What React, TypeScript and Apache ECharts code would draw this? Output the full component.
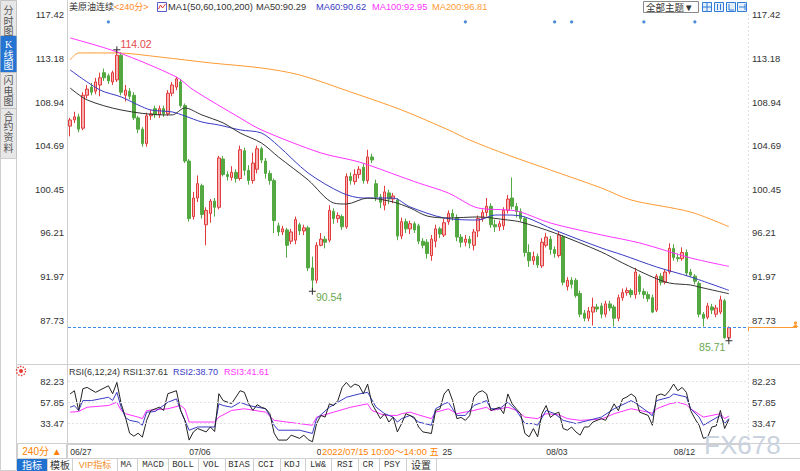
import React, { useEffect, useRef } from 'react';
import * as echarts from 'echarts';

// ---------- data ----------
// candles: [open, close, low, high] (240-minute bars)
const candles: number[][] = [
  [106.6,107.2,105.6,107.4],[107.2,107.5,106.9,108.0],[107.5,106.3,106.0,107.8],[106.4,109.6,106.2,109.9],[109.6,110.2,109.3,110.6],
  [110.4,109.9,109.6,110.8],[110.0,110.9,109.7,111.3],[110.6,111.3,109.5,111.8],[111.8,111.3,111.0,112.2],[111.5,111.0,110.7,111.7],
  [110.9,111.8,110.6,112.0],[111.1,113.5,110.9,114.02],[113.5,109.9,109.6,113.8],[109.6,110.1,109.0,110.6],[110.0,109.5,109.2,110.3],
  [109.6,107.4,107.2,109.9],[107.4,106.3,105.9,107.6],[106.3,104.9,104.6,106.5],[104.9,107.6,104.6,107.9],[107.6,107.8,107.2,108.2],
  [108.3,107.7,107.4,108.6],[107.7,108.3,107.4,108.6],[108.3,107.8,107.5,108.6],[107.8,109.8,107.6,110.1],[109.8,110.6,109.5,110.9],
  [110.4,111.2,110.1,111.4],[110.9,108.6,108.4,111.2],[108.6,103.2,103.0,108.8],[103.2,97.6,97.3,103.4],[97.8,99.6,97.5,100.2],
  [99.6,101.0,99.2,101.8],[100.8,98.0,97.6,101.0],[97.0,98.4,95.0,98.7],[98.1,99.3,97.2,99.5],[99.3,98.7,97.8,99.6],
  [98.7,103.5,98.5,103.7],[103.4,101.9,101.7,103.7],[101.9,101.7,101.3,102.2],[101.6,102.1,101.3,102.7],[102.1,101.5,101.1,102.4],
  [101.5,104.3,101.3,104.7],[104.2,102.3,101.8,104.5],[102.3,101.3,100.9,102.8],[101.3,103.0,101.0,104.0],[102.4,104.4,102.0,104.7],
  [104.4,103.3,103.0,104.6],[103.2,102.0,101.5,103.5],[102.0,101.3,100.9,102.3],[101.3,97.4,96.2,101.5],[96.9,96.3,95.9,97.2],
  [96.3,96.6,96.0,96.9],[96.5,95.0,93.8,96.7],[95.4,96.3,95.1,96.6],[95.5,97.5,95.1,97.8],[97.0,96.4,96.0,97.2],
  [96.4,96.7,96.0,97.0],[96.7,92.8,92.5,96.9],[92.8,91.6,90.54,93.9],[91.6,95.0,91.3,95.3],[95.0,95.6,94.9,96.2],
  [95.6,95.3,94.7,95.9],[95.5,98.4,95.3,98.9],[98.3,97.6,97.1,98.6],[97.6,97.9,97.2,98.2],[97.8,96.8,96.5,98.0],
  [96.8,101.7,96.6,102.0],[101.7,101.3,100.9,102.1],[101.2,101.9,100.9,102.4],[101.9,102.4,101.5,102.7],[102.6,101.3,101.0,103.0],
  [101.3,103.6,101.0,104.3],[103.6,103.3,103.0,103.9],[101.0,99.7,99.3,101.4],[99.7,99.2,98.6,100.0],[98.9,100.2,98.4,100.8],
  [100.1,99.5,99.0,100.4],[99.5,99.8,99.1,100.1],[99.4,95.9,95.5,99.6],[95.9,97.3,95.6,97.7],[97.3,96.6,96.2,97.6],
  [96.6,97.1,96.1,97.4],[97.1,96.5,96.2,97.3],[96.9,95.4,95.1,97.1],[95.4,95.0,94.7,95.7],[95.3,94.2,93.7,95.6],
  [94.0,95.6,93.5,96.0],[95.4,96.6,94.8,97.0],[96.6,96.1,95.7,96.8],[96.0,97.2,95.8,97.6],[97.3,98.1,97.0,98.4],
  [98.1,97.8,97.4,98.5],[97.7,95.8,95.4,98.0],[95.8,95.3,94.8,96.1],[95.3,95.6,94.9,96.0],[95.6,95.2,94.7,95.9],
  [95.0,96.3,94.5,96.6],[96.4,97.6,95.8,97.9],[97.6,98.2,97.3,98.5],[98.2,98.8,97.8,99.6],[98.8,97.0,96.7,99.1],
  [97.0,96.8,96.3,97.5],[96.8,97.1,96.4,97.4],[96.9,98.4,96.5,98.7],[98.4,99.5,98.1,99.9],[99.6,98.8,98.5,101.6],
  [98.8,98.3,97.7,99.1],[98.3,97.6,97.3,98.6],[97.6,94.3,93.9,97.8],[94.3,93.5,92.9,95.1],[93.5,93.9,93.1,94.4],
  [93.9,93.1,92.8,94.2],[93.0,95.3,92.8,95.7],[95.0,95.8,94.8,96.2],[95.6,94.6,94.1,95.9],[94.6,94.2,93.8,94.9],
  [94.0,96.0,93.8,96.3],[95.8,91.4,91.1,96.0],[91.0,91.6,90.6,91.9],[91.6,91.2,90.8,91.9],[91.6,90.1,89.9,91.8],
  [90.3,88.3,88.0,90.6],[88.4,87.9,87.6,88.7],[87.9,88.6,87.6,89.0],[88.5,89.0,87.2,89.9],[89.0,88.8,88.5,89.3],
  [89.1,88.3,87.9,89.4],[88.3,89.3,88.0,89.6],[89.3,88.9,88.6,89.6],[89.0,87.9,87.1,89.2],[87.9,89.9,87.6,90.2],
  [89.9,90.4,89.6,90.8],[90.4,90.6,90.1,90.9],[90.6,90.2,89.9,90.8],[90.2,92.4,89.8,92.8],[92.0,90.5,90.2,92.2],
  [90.5,90.2,89.8,90.8],[90.2,89.8,89.5,90.5],[89.9,88.5,88.4,90.2],[88.7,92.0,88.5,92.2],[92.0,91.4,91.1,92.3],
  [91.4,92.4,91.2,92.7],[92.4,94.7,92.2,95.2],[94.7,93.8,93.5,95.1],[93.8,93.7,93.4,94.2],[93.7,94.3,93.5,94.8],
  [94.3,92.3,92.0,94.6],[92.4,92.1,91.9,92.7],[92.0,91.5,91.2,92.2],[91.3,88.3,88.0,91.5],[88.3,87.9,87.1,88.5],
  [88.0,89.1,87.8,89.4],[89.0,88.7,88.3,89.3],[88.3,88.9,88.0,89.2],[88.5,89.7,88.3,90.1],[89.6,86.0,85.9,89.8],
  [86.0,86.98,85.71,87.1],
];
const slotCount = 160; // bar slots on the time axis (last few empty)

// moving averages, read at points: [bar index, value]
const ma50: number[][] = [[0,110.31],[4,109.15],[12,108.17],[22,107.69],[24,107.69],[27,108.37],[31,107.69],[36,106.91],[40,105.93],[45,104.96],[49,103.6],[56,101.36],[62,99.12],[65,99.02],[70,99.6],[76,99.22],[80,98.63],[84,97.85],[89,97.66],[96,97.76],[103,97.46],[106,97.27],[114,96.2],[125,94.35],[130,93.28],[137,91.92],[141,91.33],[146,91.14],[148,90.94],[155,90.29]];
const ma60: number[][] = [[0,112.07],[7,110.12],[12,109.44],[16,108.66],[19,108.17],[24,107.98],[27,107.59],[31,107.0],[35,106.71],[40,106.23],[45,105.93],[49,104.67],[56,102.04],[64,100.09],[69,99.6],[76,99.6],[80,98.73],[88,97.66],[96,97.46],[100,97.95],[103,97.95],[107,97.76],[114,96.49],[125,94.74],[130,94.06],[138,92.89],[146,91.92],[155,90.62]];
const ma100: number[][] = [[0,115.18],[11,113.82],[25,111.38],[29,110.12],[40,107.39],[45,106.23],[59,103.99],[68,103.11],[78,101.65],[82,101.06],[89,100.09],[96,98.63],[103,98.44],[106,98.24],[113,97.17],[125,96.01],[134,95.23],[146,93.77],[155,92.95]];
const ma200: number[][] = [[0,113.04],[2,113.72],[11,113.72],[21,113.33],[33,112.75],[45,112.26],[54,111.58],[66,109.92],[78,108.17],[89,106.23],[94,105.25],[103,103.79],[113,102.33],[125,100.58],[132,99.41],[146,98.24],[155,96.81]];

// RSI(6,12,24), read at points: [bar index, value]
const rsi1: number[][] = [[0,67.6],[1,71.4],[2,48.2],[3,73.8],[4,75.3],[6,69.5],[9,77.2],[10,67.9],[11,81.1],[12,56.3],[13,40.4],[14,21.5],[15,18.0],[16,21.5],[17,16.9],[18,36.6],[19,48.2],[21,52.0],[22,48.2],[23,67.9],[25,71.4],[26,48.2],[27,36.6],[28,13.4],[29,23.0],[30,27.0],[32,23.0],[33,28.8],[34,23.5],[35,67.9],[36,59.8],[38,56.3],[40,71.4],[41,69.5],[42,56.3],[43,48.2],[44,55.0],[45,52.0],[46,50.3],[47,44.4],[48,21.5],[49,13.4],[51,13.4],[52,19.2],[54,15.4],[55,19.2],[56,14.0],[57,11.4],[58,32.8],[59,42.4],[60,40.4],[61,56.0],[62,54.0],[63,59.8],[64,75.3],[65,81.1],[66,75.3],[67,79.2],[68,77.2],[69,67.9],[70,79.2],[71,56.3],[73,38.6],[74,44.4],[75,34.6],[76,40.4],[77,23.0],[78,32.8],[79,44.4],[81,40.0],[82,28.8],[83,23.0],[85,21.2],[86,48.2],[87,50.0],[88,67.6],[89,73.4],[90,59.8],[91,38.6],[92,40.0],[93,36.6],[94,42.0],[95,63.7],[96,69.5],[97,71.4],[98,67.6],[99,48.2],[100,50.0],[101,52.0],[102,44.4],[103,67.6],[104,56.0],[105,50.0],[106,44.4],[107,21.2],[108,17.2],[109,27.0],[110,17.2],[111,44.4],[112,54.0],[113,40.0],[114,44.0],[115,46.2],[116,27.0],[117,25.0],[118,28.8],[119,23.0],[120,19.2],[121,28.8],[122,28.8],[123,34.6],[124,36.6],[125,38.6],[126,36.6],[128,56.0],[129,48.0],[130,61.8],[131,64.0],[132,67.6],[133,64.0],[134,46.2],[136,42.4],[137,30.8],[138,65.6],[139,67.6],[140,65.6],[141,71.4],[142,79.2],[143,71.4],[144,75.3],[145,69.5],[146,48.2],[147,38.6],[148,30.8],[149,15.4],[150,17.0],[151,28.8],[152,30.0],[153,48.2],[154,27.0],[155,37.61]];
const rsi2: number[][] = [[0,52.0],[1,53.9],[2,48.2],[3,59.8],[5,59.8],[9,63.7],[10,60.0],[11,69.5],[12,52.0],[13,40.0],[14,36.6],[16,34.6],[17,30.8],[18,46.2],[20,47.0],[23,57.8],[25,61.8],[26,48.2],[28,25.0],[30,28.8],[34,28.8],[35,56.0],[36,54.0],[38,52.0],[40,57.8],[42,54.0],[46,50.2],[47,42.0],[48,30.8],[49,25.0],[54,25.0],[57,21.2],[58,38.6],[61,52.0],[65,63.7],[68,67.6],[70,69.5],[72,52.0],[74,44.4],[76,40.4],[77,34.6],[78,38.6],[80,42.4],[82,34.6],[85,30.8],[86,50.2],[88,56.0],[89,57.8],[91,42.4],[93,42.4],[95,54.0],[98,59.8],[99,50.2],[101,50.2],[103,57.8],[105,48.2],[107,32.8],[109,32.8],[110,30.8],[112,48.2],[114,44.4],[116,36.6],[119,32.8],[122,36.6],[125,40.4],[128,50.2],[132,59.8],[133,57.0],[136,46.2],[137,42.0],[138,59.8],[141,63.7],[142,67.6],[145,64.0],[146,50.2],[148,40.4],[149,30.8],[151,36.6],[153,42.4],[154,32.8],[155,38.70]];
const rsi3: number[][] = [[0,46.2],[2,47.0],[4,52.0],[9,54.0],[11,57.8],[12,48.2],[13,44.4],[16,40.4],[17,38.6],[18,48.2],[23,50.2],[26,54.0],[27,50.0],[28,34.6],[31,34.6],[34,34.6],[35,40.4],[38,48.2],[41,50.2],[46,46.2],[48,36.6],[51,34.6],[57,30.8],[58,40.4],[62,46.2],[66,52.0],[70,56.0],[71,48.2],[74,42.4],[77,42.4],[78,44.4],[80,46.2],[82,43.0],[85,38.6],[86,46.2],[89,50.2],[91,44.4],[95,48.2],[98,52.0],[99,48.0],[103,52.0],[105,48.2],[107,40.4],[110,38.6],[112,44.4],[115,43.0],[117,38.6],[120,36.6],[125,38.0],[128,44.4],[132,50.2],[136,46.2],[137,45.0],[138,50.2],[141,56.0],[143,57.8],[145,55.0],[146,50.2],[149,40.4],[151,42.4],[153,44.4],[154,38.6],[155,41.61]];

const mainTicks = ['87.73','91.97','96.21','100.45','104.69','108.94','113.18','117.42'];
const rsiTicks = ['33.47','57.85','82.23'];
const dateLabels = ['06/27','07/06','07/15','07/25','08/03','08/12'];
const dateLabelIdx = [0, 28, 58, 84, 112, 142];
// the parts of the date labels left visible around the crosshair time box
const dateLabelVisible = ['06/27','07/06','0','','08/03','08/12'];
const crosshairText = '2022/07/15 10:00～14:00 五';
const eventIdx = [9, 93, 114, 118, 135, 147];
const eventLevel = 116.74;
const lastPrice = 86.98;
const extremes = [
  { idx: 11, value: 114.02, kind: 'high' },
  { idx: 57, value: 90.54, kind: 'low' },
  { idx: 155, value: 85.71, kind: 'lowEnd' },
];

// ---------- helpers ----------
const FONT = '"Liberation Sans", "Noto Sans CJK SC", sans-serif';
const MONO = '"Liberation Mono", "Noto Sans CJK SC", monospace';
const mainStep = (117.42 - 87.73) / 7;
const mainMin = 87.73 - mainStep;
const mainMax = 117.9;
const rsiStep = 24.38;
const rsiMin = 33.47 - rsiStep;
const rsiMax = 98.1;

const pick = (ticks: string[]) => (v: number) => {
  const m = ticks.find((t) => Math.abs(parseFloat(t) - v) < 0.05);
  return m ?? '';
};

const T = (text: string, x: number, y: number, fill: string, size = 9.5, family = FONT, align = 'left', z = 50) => ({
  type: 'text', x, y, z, silent: true,
  style: { text, fill, font: `${size}px ${family}`, align, verticalAlign: 'middle', textAlign: align, textVerticalAlign: 'middle' },
});
const L = (x1: number, y1: number, x2: number, y2: number, stroke = '#d2d2d2', dash?: number[], z = 40) => ({
  type: 'line', z, silent: true, shape: { x1, y1, x2, y2 }, style: { stroke, lineWidth: 1, lineDash: dash },
});
const R = (x: number, y: number, w: number, h: number, fill: string, stroke?: string, z = 45) => ({
  type: 'rect', z, silent: true, shape: { x, y, width: w, height: h }, style: { fill, stroke, lineWidth: 1 },
});

function buildGraphic() {
  const g: any[] = [];
  // sidebar
  g.push(R(0.5, 0.5, 16, 158, '#e7e7e7', '#c4c4c4', 30));
  g.push(R(0.5, 36, 16, 36, '#2574d2', undefined, 31));
  g.push(L(0, 35.5, 17, 35.5, '#c4c4c4', undefined, 32));
  g.push(L(0, 72.5, 17, 72.5, '#c4c4c4', undefined, 32));
  g.push(L(0, 108.5, 17, 108.5, '#c4c4c4', undefined, 32));
  g.push(R(0.5, 158.5, 16, 312, '#ffffff', '#cfcfcf', 30));
  const side: [string, number, string][] = [
    ['分', 10, '#555'], ['时', 21, '#555'], ['图', 31, '#555'],
    ['K', 44, '#fff'], ['线', 55, '#fff'], ['图', 65, '#fff'],
    ['闪', 80, '#555'], ['电', 91, '#555'], ['图', 101, '#555'],
    ['合', 116, '#555'], ['约', 126, '#555'], ['资', 137, '#555'], ['料', 148, '#555'],
  ];
  side.forEach(([c, y, f]) => g.push(T(c, 8.5, y, f, 10, c === 'K' ? '"Liberation Serif", serif' : FONT, 'center', 35)));

  // frame lines
  g.push(L(67.5, 0, 67.5, 458, '#cfcfcf'));
  g.push(L(748.5, 14, 748.5, 443, '#dedede', [2, 2]));
  g.push(L(17, 364.5, 800, 364.5, '#cfcfcf'));
  g.push(L(17, 443.5, 800, 443.5, '#cfcfcf'));

  // top legend
  g.push(T('美原油连续', 69, 7, '#333', 9));
  g.push(T('<240分>', 114, 7, '#ff8a1f', 9));
  g.push(R(157.5, 2.5, 9, 9, '#ffffff', '#5b5bd0', 46));
  g.push({ type: 'polyline', z: 47, silent: true, shape: { points: [[158.5, 9], [160.5, 5], [162.5, 8], [165.5, 4]] }, style: { stroke: '#e53935', lineWidth: 1, fill: 'none' } });
  g.push(T('MA1(50,60,100,200)', 168, 7, '#333', 9.3));
  g.push(T('MA50:90.29', 256, 7, '#333', 9.3));
  g.push(T('MA60:90.62', 316, 7, '#3a3ac4', 9.3));
  g.push(T('MA100:92.95', 372, 7, '#ff33ff', 9.3));
  g.push(T('MA200:96.81', 432, 7, '#ff9a33', 9.3));

  // top-right controls
  g.push(R(643.5, 1.5, 55, 11, '#ffffff', '#8a8a8a'));
  g.push(T('全部主题▼', 646, 7, '#333', 9.5));
  [702, 714, 726, 737].forEach((x, k) => {
    g.push(R(x + 0.5, 2.5, 9, 9, '#e6f0fb', '#2f7bd5', 46));
    if (k === 0) { g.push(L(x + 5, 3, x + 5, 11, '#2f7bd5', undefined, 47)); g.push(L(x + 1, 7, x + 9, 7, '#2f7bd5', undefined, 47)); }
    if (k === 1) { g.push(L(x + 3.5, 4, x + 3.5, 10, '#2f7bd5', undefined, 47)); g.push(L(x + 6.5, 4, x + 6.5, 10, '#2f7bd5', undefined, 47)); }
    if (k === 2) { g.push(L(x + 3, 4, x + 3, 10, '#2f7bd5', undefined, 47)); g.push(L(x + 3, 10, x + 8, 10, '#2f7bd5', undefined, 47)); }
    if (k === 3) { g.push(L(x + 2, 7, x + 8, 7, '#2f7bd5', undefined, 47)); g.push(L(x + 8, 4, x + 8, 10, '#2f7bd5', undefined, 47)); }
  });

  // RSI legend + icon
  g.push({ type: 'circle', z: 50, silent: true, shape: { cx: 21, cy: 371, r: 4.5 }, style: { fill: 'none', stroke: '#e53935', lineWidth: 1.4, lineDash: [1.4, 1.4] } });
  g.push({ type: 'circle', z: 50, silent: true, shape: { cx: 21, cy: 371, r: 2 }, style: { fill: '#e53935' } });
  g.push(T('RSI(6,12,24)', 69, 372, '#333', 9));
  g.push(T('RSI1:37.61', 123, 372, '#333', 9));
  g.push(T('RSI2:38.70', 173, 372, '#3a3ac4', 9));
  g.push(T('RSI3:41.61', 224, 372, '#ff33ff', 9));

  // current price tag on the right
  g.push({ type: 'polyline', z: 50, silent: true, shape: { points: [[748.5, 331], [748.5, 327.5], [797, 327.5]] }, style: { stroke: '#ff9a33', lineWidth: 1, fill: 'none' } });
  g.push({ type: 'circle', z: 50, silent: true, shape: { cx: 795.5, cy: 323, r: 1.6 }, style: { fill: '#ff9a33' } });
  g.push({ type: 'polygon', z: 50, silent: true, shape: { points: [[792.5, 327], [798.5, 327], [795.5, 324]] }, style: { fill: '#ff9a33' } });

  // period box
  g.push(R(17.5, 443.5, 49, 15, '#ffffff', '#cfcfcf'));
  g.push(T('240分 ▲', 42, 451.5, '#ff7f00', 10, FONT, 'center'));

  // crosshair time label, and the tail of the 07/25 label that shows after it
  g.push(R(321, 445, 121, 13, '#ffffff', undefined, 100));
  g.push(T(crosshairText, 322, 452, '#ff7f00', 9.3, FONT, 'left', 101));
  g.push(T('25', 442.5, 452, '#333', 8.6, FONT, 'left', 101));

  // watermark
  g.push(T('FX678', 704, 445, '#c9d2de', 26, FONT, 'left', 60));

  // bottom tab bar
  g.push(R(17.5, 458.5, 783, 13, '#ffffff', '#cfcfcf'));
  g.push(R(17, 459, 30, 12, '#1f72d0', undefined, 46));
  [47, 72, 117, 137, 168, 198, 225, 253, 280, 305, 331, 358, 379, 406, 436].forEach((x) => g.push(L(x + 0.5, 459, x + 0.5, 471, '#cfcfcf', undefined, 47)));
  g.push(T('指标', 32, 465, '#ffffff', 10, FONT, 'center'));
  g.push(T('模板', 60, 465, '#333', 10, FONT, 'center'));
  g.push(T('VIP指标', 95, 465, '#f08a24', 9, FONT, 'center'));
  const tabs: [string, number][] = [['MA', 126], ['MACD', 153], ['BOLL', 183], ['VOL', 211], ['BIAS', 239], ['CCI', 266], ['KDJ', 292], ['LW&', 318], ['RSI', 345], ['CR', 368], ['PSY', 392]];
  tabs.forEach(([t, x]) => g.push(T(t, x, 465, '#333', 9, MONO, 'center')));
  g.push(T('设置', 421, 465, '#333', 10, FONT, 'center'));
  return g;
}

export default function App() {
  const ref = useRef<HTMLDivElement>(null);
  useEffect(() => {
    const chart = echarts.init(ref.current!, null, { renderer: 'svg' });
    const cats = Array.from({ length: slotCount }, (_, i) => String(i));
    const plus = 'path://M0,3H7V4H0ZM3,0H4V7H3Z';
    const extremeMarks = extremes.map((e) => ({
      coord: [e.idx, e.value],
      value: e.value.toFixed(2),
      label: e.kind === 'high'
        ? { position: 'right', distance: 0, offset: [0, -6], color: '#e5484d' }
        : e.kind === 'low'
          ? { position: 'right', distance: 0, offset: [0, 6], color: '#6aa84f' }
          : { position: 'left', distance: 0, offset: [0, 6], color: '#6aa84f' },
    }));
    const lineSeries = (name: string, data: number[][], color: string, xi: number, yi: number, smooth: any) => ({
      name, type: 'line', data, xAxisIndex: xi, yAxisIndex: yi, showSymbol: false, symbol: 'none', smooth,
      lineStyle: { color, width: 1 }, itemStyle: { color }, silent: true, z: 3,
    });
    const yCommon = {
      type: 'value', axisLine: { show: false }, axisTick: { show: false }, splitLine: { show: false },
      axisLabel: { color: '#333', fontSize: 9.5, fontFamily: FONT, margin: 4 },
    };
    const option: any = {
      animation: false,
      backgroundColor: '#ffffff',
      grid: [
        { left: 68, width: 680, top: 10, height: 353.6 },
        { left: 68, width: 680, top: 368, height: 75.75 },
      ],
      xAxis: [
        { type: 'category', gridIndex: 0, data: cats, boundaryGap: true, axisLine: { show: false }, axisTick: { show: false }, axisLabel: { show: false }, splitLine: { show: false } },
        {
          type: 'category', gridIndex: 1, data: cats, boundaryGap: true,
          axisLine: { show: true, lineStyle: { color: '#cfcfcf' } }, axisTick: { show: false }, splitLine: { show: false },
          axisLabel: {
            show: true, align: 'left', color: '#333', fontSize: 8.6, fontFamily: FONT, margin: 4,
            interval: (index: number) => dateLabelIdx.includes(index) && dateLabelVisible[dateLabelIdx.indexOf(index)] !== '',
            formatter: (_v: string, index: number) => { const k = dateLabelIdx.indexOf(index); return k >= 0 ? dateLabelVisible[k] : ''; },
          },
        },
      ],
      yAxis: [
        { ...yCommon, gridIndex: 0, position: 'left', min: mainMin, max: mainMax, interval: mainStep, axisLabel: { ...yCommon.axisLabel, formatter: pick(mainTicks) } },
        { ...yCommon, gridIndex: 0, position: 'right', min: mainMin, max: mainMax, interval: mainStep, axisLabel: { ...yCommon.axisLabel, formatter: pick(mainTicks) } },
        { ...yCommon, gridIndex: 1, position: 'left', min: rsiMin, max: rsiMax, interval: rsiStep, axisLabel: { ...yCommon.axisLabel, formatter: pick(rsiTicks) } },
        { ...yCommon, gridIndex: 1, position: 'right', min: rsiMin, max: rsiMax, interval: rsiStep, axisLabel: { ...yCommon.axisLabel, formatter: pick(rsiTicks) } },
      ],
      series: [
        {
          name: 'K', type: 'candlestick', xAxisIndex: 0, yAxisIndex: 0, data: candles, barWidth: 3, silent: true, z: 2,
          itemStyle: { color: '#f7b3b3', borderColor: '#e23b3b', color0: '#53a842', borderColor0: '#53a842', borderWidth: 1 },
          markPoint: {
            symbol: plus, symbolSize: 7, silent: true, itemStyle: { color: '#333' },
            label: { show: true, fontSize: 10.5, fontFamily: FONT, formatter: (p: any) => p.value },
            data: extremeMarks,
          },
          markLine: {
            symbol: ['none', 'none'], silent: true, label: { show: false },
            itemStyle: { color: '#3d8be6' },
            lineStyle: { type: [3, 2], color: '#3d8be6', width: 1, opacity: 1 },
            data: [{ yAxis: lastPrice, lineStyle: { color: '#3d8be6' } }],
          },
        },
        lineSeries('MA200', ma200, '#ff9a33', 0, 0, 0.3),
        lineSeries('MA100', ma100, '#ff33ff', 0, 0, 0.3),
        lineSeries('MA60', ma60, '#3a3ac4', 0, 0, 0.3),
        lineSeries('MA50', ma50, '#333333', 0, 0, 0.3),
        {
          name: 'events', type: 'scatter', xAxisIndex: 0, yAxisIndex: 0, symbolSize: 3.2, silent: true,
          itemStyle: { color: '#1e6fd0' }, data: eventIdx.map((i) => [i, eventLevel]),
        },
        {
          ...lineSeries('RSI3', rsi3, '#ff33ff', 1, 2, false),
          markLine: {
            symbol: ['none', 'none'], silent: true, label: { show: false },
            lineStyle: { type: [2, 2], color: '#e2e2e2', width: 1 },
            data: rsiTicks.map((t) => ({ yAxis: parseFloat(t) })),
          },
        },
        lineSeries('RSI2', rsi2, '#3a3ac4', 1, 2, false),
        lineSeries('RSI1', rsi1, '#222222', 1, 2, false),
      ],
      graphic: buildGraphic(),
    };
    chart.setOption(option);
    return () => chart.dispose();
  }, []);
  return <div ref={ref} style={{ position: 'fixed', left: 0, top: 0, width: 800, height: 471, background: '#fff' }} />;
}
